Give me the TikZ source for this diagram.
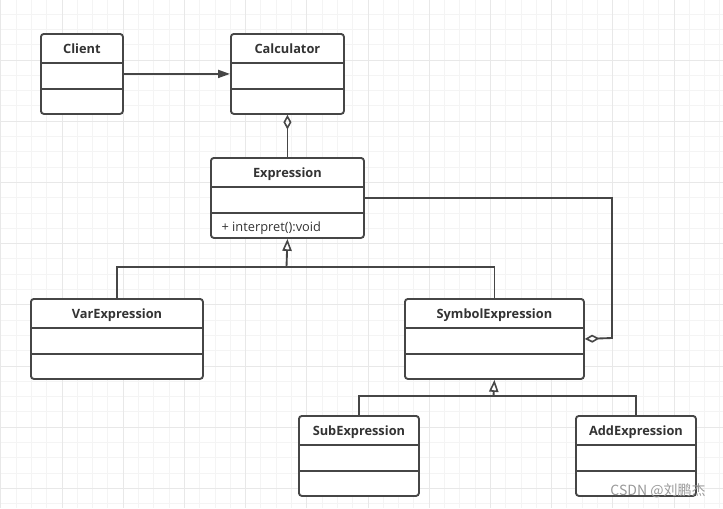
\documentclass[tikz,border=0pt]{standalone}
\usepackage{fontspec}
\setmainfont{Open Sans}
\newfontfamily\cjkfont{Noto Sans CJK SC}
\usetikzlibrary{arrows.meta}

\definecolor{umlline}{HTML}{464646}
\definecolor{umltext}{HTML}{333333}
\definecolor{gridminor}{HTML}{F4F4F4}
\definecolor{gridmajor}{HTML}{E8E8E8}

\tikzset{
  classbox/.style={draw=umlline, line width=1.4pt, rounded corners=2.2pt, fill=white,
    anchor=north west, inner sep=0pt, minimum height=60pt,
    path picture={
      \draw[umlline, line width=1.4pt, sharp corners]
        ([yshift=-22pt]path picture bounding box.north west) -- ([yshift=-22pt]path picture bounding box.north east)
        ([yshift=-41.25pt]path picture bounding box.north west) -- ([yshift=-41.25pt]path picture bounding box.north east);
    }},
  classtitle/.style={anchor=base, yshift=-15pt, inner sep=0pt, text=umltext,
    font=\fontsize{9.6}{11}\selectfont\bfseries},
  methodtext/.style={anchor=base west, xshift=8.5pt, yshift=5.4pt, inner sep=0pt, text=umltext,
    font=\fontsize{9.6}{11}\selectfont},
  conn/.style={draw=umlline, line width=1.4pt},
  assoc/.style={conn, -{Triangle[length=9pt, width=6pt]}},
  aggr/.style={conn, -{Diamond[open, length=11pt, width=6pt, line width=1.2pt]}},
  gen/.style={conn, -{Triangle[open, length=9pt, width=7pt, line width=1.2pt]}},
}

\begin{document}
\begin{tikzpicture}[x=0.75pt, y=-0.75pt]

\useasboundingbox (0,0) rectangle (723,508);
\fill[white] (0,0) rectangle (723,508);

% grid
\foreach \gi in {0,...,47} \draw[gridminor, line width=0.75pt] ({0.8+15.3*\gi},0) -- ++(0,508);
\foreach \gj in {0,...,33} \draw[gridminor, line width=0.75pt] (0,{-1.2+15.3*\gj}) -- ++(723,0);
\foreach \gi in {0,...,11} \draw[gridmajor, line width=0.75pt] ({0.8+61.2*\gi},0) -- ++(0,508);
\foreach \gj in {1,...,8} \draw[gridmajor, line width=0.75pt] (0,{-1.2+61.2*\gj}) -- ++(723,0);

% classes
\node[classbox, minimum width=61.5pt, label={[classtitle]north:Client}] (client) at (40,33) {};
\node[classbox, minimum width=84.75pt, label={[classtitle]north:Calculator}] (calc) at (230,33) {};
\node[classbox, minimum width=114.75pt, label={[classtitle]north:Expression},
  label={[methodtext]south west:+ interpret():void}] (expr) at (210,157) {};
\node[classbox, minimum width=129pt, label={[classtitle]north:VarExpression}] (varexp) at (30,298) {};
\node[classbox, minimum width=134.25pt, label={[classtitle]north:SymbolExpression}] (symexp) at (404,298) {};
\node[classbox, minimum width=90pt, label={[classtitle]north:SubExpression}] (subexp) at (298,415) {};
\node[classbox, minimum width=90pt, label={[classtitle]north:AddExpression}] (addexp) at (575,415) {};

% bends
\coordinate (genjoin1) at (286.5,267);
\coordinate (genjoin2) at (493.5,396);
\coordinate (aggrbend) at (612,338);

% connectors
\draw[assoc] (client.east) -- (calc.west); % client uses calculator
\draw[aggr] (expr.north) -- (calc.south); % calculator holds expression
\draw[aggr] (expr.east) -| (aggrbend) -- (symexp.east); % symbol holds expressions
\draw[conn] (varexp.north) |- (genjoin1) -| (symexp.north);
\draw[gen] (genjoin1) -- (expr.south);
\draw[conn] (subexp.north) |- (genjoin2) -| (addexp.north);
\draw[gen] (genjoin2) -- (symexp.south);

% watermark
\node[text=black!40, font=\fontsize{10.5}{12}\selectfont\cjkfont, inner sep=0pt] (mark) at (658,491) {CSDN @刘鹏杰};

\end{tikzpicture}
\end{document}
